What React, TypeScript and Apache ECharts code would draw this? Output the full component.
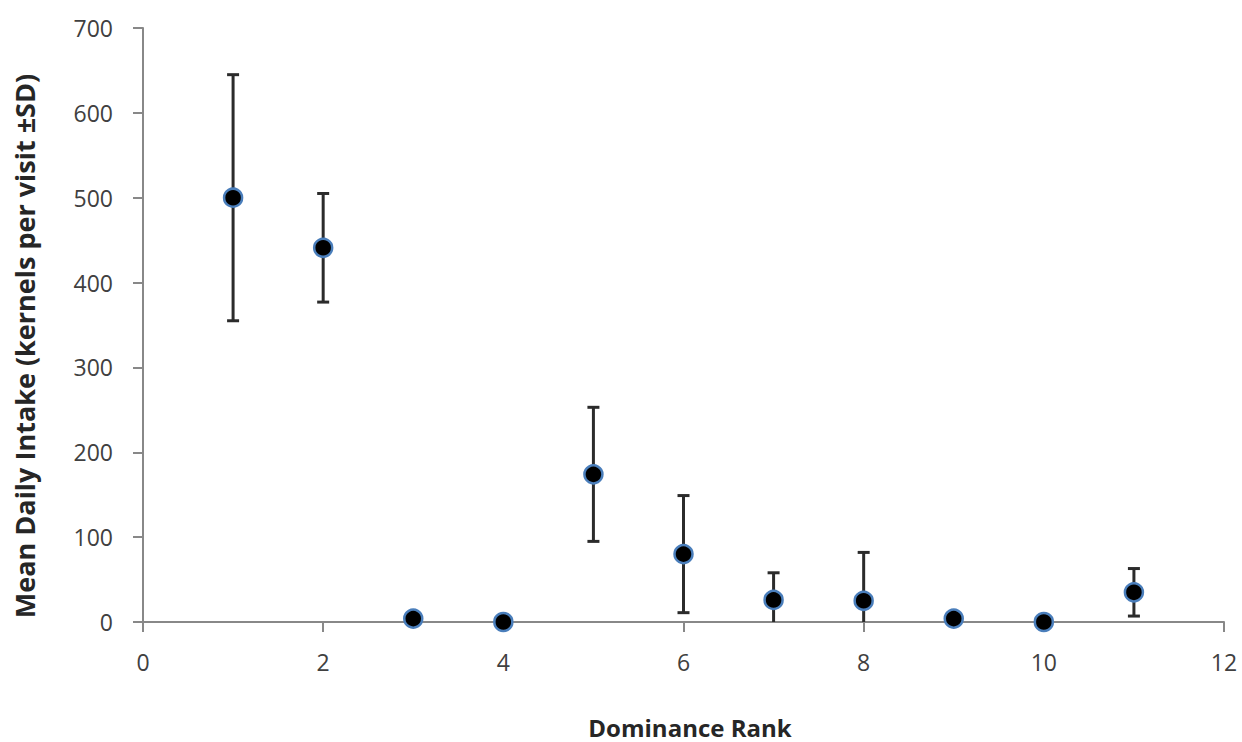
import React, { useEffect, useRef } from "react";
import * as echarts from "echarts";

const ranks = [1, 2, 3, 4, 5, 6, 7, 8, 9, 10, 11];
const means = [500, 441, 4, 0, 174, 80, 26, 25, 4, 0, 35];
const sds = [145, 64, 0, 0, 79, 69, 32, 57, 0, 0, 28];
const xTitle = "Dominance Rank";
const yTitle = "Mean Daily Intake (kernels per visit \u00b1SD)";

export default function App() {
  const ref = useRef<HTMLDivElement>(null);
  useEffect(() => {
    if (!ref.current) return;
    const chart = echarts.init(ref.current, null, { renderer: "svg" });
    const errData = ranks.map((r, i) => [r, means[i], sds[i]]);
    const ptData = ranks.map((r, i) => [r, means[i]]);
    const font = "'Open Sans', 'Noto Sans', sans-serif";
    chart.setOption({
      animation: false,
      backgroundColor: "#ffffff",
      grid: { left: 143, right: 18, top: 28, bottom: 120, containLabel: false },
      xAxis: {
        type: "value",
        min: 0,
        max: 12,
        interval: 2,
        splitLine: { show: false },
        axisLine: { show: true, onZero: false, lineStyle: { color: "#888888", width: 2 } },
        axisTick: { show: true, length: 10, lineStyle: { color: "#888888", width: 2 } },
        axisLabel: { color: "#404040", fontSize: 23, fontFamily: font, margin: 28 },
      },
      yAxis: {
        type: "value",
        min: 0,
        max: 700,
        interval: 100,
        splitLine: { show: false },
        axisLine: { show: true, lineStyle: { color: "#888888", width: 2 } },
        axisTick: { show: true, length: 10, lineStyle: { color: "#888888", width: 2 } },
        axisLabel: { color: "#404040", fontSize: 23, fontFamily: font, margin: 30 },
      },
      graphic: [
        {
          type: "text",
          x: 690,
          y: 727,
          style: {
            text: xTitle,
            fill: "#262626",
            font: `bold 24px ${font}`,
            lineHeight: 24,
            align: "center",
            verticalAlign: "middle",
          },
        },
        {
          type: "text",
          x: 24,
          y: 346,
          rotation: Math.PI / 2,
          style: {
            text: yTitle,
            fill: "#262626",
            font: `bold 27px ${font}`,
            lineHeight: 27,
            align: "center",
            verticalAlign: "middle",
          },
        },
      ],
      series: [
        {
          type: "custom",
          z: 2,
          data: errData,
          encode: { x: 0, y: 1 },
          renderItem: (params: any, api: any) => {
            const x = api.value(0);
            const m = api.value(1);
            const sd = api.value(2);
            if (!sd) return { type: "group", children: [] };
            const hi = m + sd;
            const loRaw = m - sd;
            const lo = Math.max(0, loRaw);
            const top = api.coord([x, hi]);
            const bot = api.coord([x, lo]);
            const style = { stroke: "#2b2b2b", lineWidth: 3 };
            const cw = 6;
            const children: any[] = [
              { type: "line", shape: { x1: top[0], y1: top[1], x2: bot[0], y2: bot[1] }, style },
              { type: "line", shape: { x1: top[0] - cw, y1: top[1], x2: top[0] + cw, y2: top[1] }, style },
            ];
            if (loRaw >= 0) {
              children.push({
                type: "line",
                shape: { x1: bot[0] - cw, y1: bot[1], x2: bot[0] + cw, y2: bot[1] },
                style,
              });
            }
            return { type: "group", children };
          },
        },
        {
          type: "scatter",
          z: 3,
          data: ptData,
          symbol: "circle",
          symbolSize: 18,
          itemStyle: {
            color: "#000000",
            borderColor: "#4a7ebb",
            borderWidth: 2.5,
            opacity: 1,
          },
        },
      ],
    });
    return () => chart.dispose();
  }, []);
  return (
    <div
      ref={ref}
      style={{ position: "fixed", left: 0, top: 0, width: 1242, height: 742, background: "#fff" }}
    />
  );
}
